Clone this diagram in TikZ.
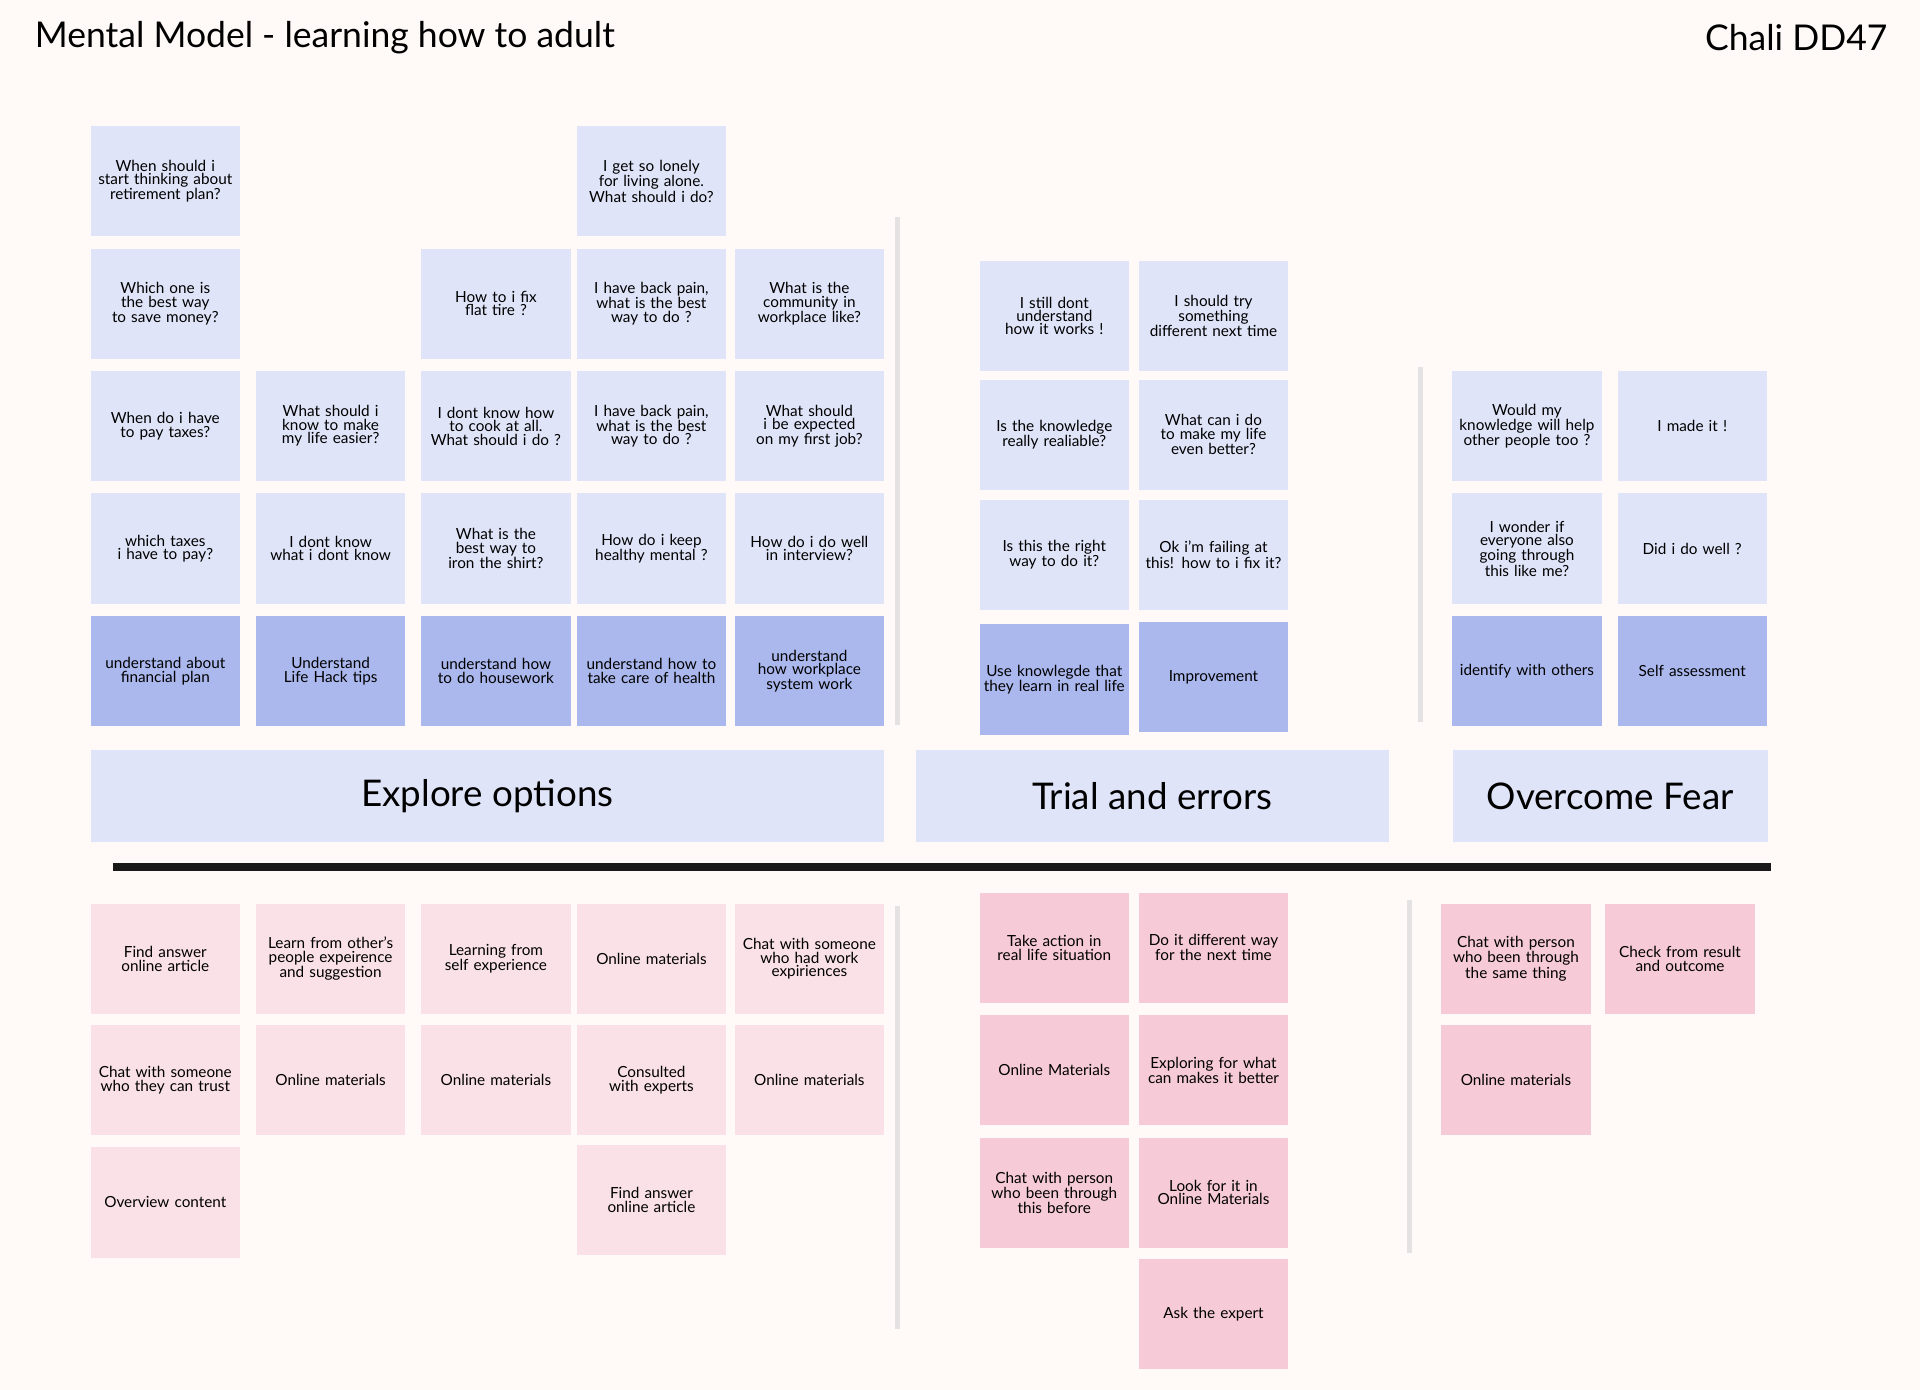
\documentclass[tikz,border=0pt]{standalone}
\usepackage{fontspec}
\setmainfont{Lato}
\hyphenpenalty=10000 \exhyphenpenalty=10000
\definecolor{bg}{HTML}{FFFAF7}
\definecolor{lb}{HTML}{DFE4F8}
\definecolor{db}{HTML}{AAB8EE}
\definecolor{lp}{HTML}{F9E1E7}
\definecolor{dp}{HTML}{F6CAD7}
\definecolor{gl}{HTML}{E4E2E2}
\begin{document}
\begin{tikzpicture}[x=1pt,y=1pt,
 note/.style={minimum width=122pt,minimum height=90pt,text width=116pt,align=center,font=\fontsize{12.5}{11}\selectfont,inner sep=2pt},
 bn/.style={note,fill=lb},
 dbn/.style={note,fill=db},
 pn/.style={note,fill=lp},
 dpn/.style={note,fill=dp},
 hdr/.style={fill=lb,inner sep=0pt,font=\fontsize{30}{32}\selectfont},
 vline/.style={gl,line width=4pt}]
\fill[bg] (0,0) rectangle (1568,-1135);
\useasboundingbox (0,0) rectangle (1568,-1135);
\node[anchor=west,font=\fontsize{29}{30}\selectfont] (title) at (25,-31) {Mental Model - learning how to adult};
\node[anchor=east,font=\fontsize{29}{30}\selectfont] (auth) at (1545,-31) {Chali DD47};
% explore top
\node[bn] (a1) at (135,-148) {When should i start thinking about retirement plan?};
\node[bn] (d1) at (532,-148) {I get so lonely for living alone. What should i do?};
\node[bn] (a2) at (135,-248) {Which one is the best way to save money?};
\node[bn] (c2) at (405,-248) {How to i fix flat tire ?};
\node[bn] (d2) at (532,-248) {I have back pain, what is the best way to do ?};
\node[bn] (e2) at (661,-248) {What is the community in workplace like?};
\node[bn] (a3) at (135,-348) {When do i have to pay taxes?};
\node[bn] (b3) at (270,-348) {What should i know to make my life easier?};
\node[bn] (c3) at (405,-348) {I dont know how to cook at all. What should i do ?};
\node[bn] (d3) at (532,-348) {I have back pain, what is the best way to do ?};
\node[bn] (e3) at (661,-348) {What should i be expected on my first job?};
\node[bn] (a4) at (135,-448) {which taxes\\ i have to pay?};
\node[bn] (b4) at (270,-448) {I dont know what i dont know};
\node[bn] (c4) at (405,-448) {What is the best way to iron the shirt?};
\node[bn] (d4) at (532,-448) {How do i keep healthy mental ?};
\node[bn] (e4) at (661,-448) {How do i do well in interview?};
\node[dbn] (a5) at (135,-548) {understand about financial plan};
\node[dbn] (b5) at (270,-548) {Understand Life Hack tips};
\node[dbn] (c5) at (405,-548) {understand how to do housework};
\node[dbn] (d5) at (532,-548) {understand how to take care of health};
\node[dbn] (e5) at (661,-548) {understand how workplace system work};
% trial top
\node[bn] (t1) at (861,-258) {I still dont understand how it works !};
\node[bn] (u1) at (991,-258) {I should try something different next time};
\node[bn] (t2) at (861,-355) {Is the knowledge really realiable?};
\node[bn] (u2) at (991,-355) {What can i do to make my life even better?};
\node[bn] (t3) at (861,-453) {Is this the right way to do it?};
\node[bn] (u3) at (991,-453) {Ok i'm failing at this! how to i fix it?};
\node[dbn] (t4) at (861,-555) {Use knowlegde that they learn in real life};
\node[dbn] (u4) at (991,-553) {Improvement};
% overcome top
\node[bn] (o1) at (1247,-348) {Would my knowledge will help other people too ?};
\node[bn] (p1) at (1382,-348) {I made it !};
\node[bn] (o2) at (1247,-448) {I wonder if everyone also going through this like me?};
\node[bn] (p2) at (1382,-448) {Did i do well ?};
\node[dbn] (o3) at (1247,-548) {identify with others};
\node[dbn] (p3) at (1382,-548) {Self assessment};
% headers
\node[hdr,minimum width=648pt,minimum height=75pt] (h1) at (398,-650) {Explore options};
\node[hdr,minimum width=386pt,minimum height=75pt] (h2) at (941,-650) {Trial and errors};
\node[hdr,minimum width=257pt,minimum height=75pt] (h3) at (1315,-650) {Overcome Fear};
\coordinate (l1) at (92,-708); \coordinate (l2) at (1446,-708);
\draw[line width=6pt,black!90] (l1) -- (l2);
% vertical lines
\coordinate (v1a) at (733,-177); \coordinate (v1b) at (733,-592);
\coordinate (v2a) at (1160,-300); \coordinate (v2b) at (1160,-590);
\coordinate (v3a) at (733,-740); \coordinate (v3b) at (733,-1085);
\coordinate (v4a) at (1151,-735); \coordinate (v4b) at (1151,-1023);
\draw[vline] (v1a)--(v1b); \draw[vline] (v2a)--(v2b);
\draw[vline] (v3a)--(v3b); \draw[vline] (v4a)--(v4b);
% explore bottom
\node[pn] (ba1) at (135,-783) {Find answer online article};
\node[pn] (bb1) at (270,-783) {Learn from other's people expeirence and suggestion};
\node[pn] (bc1) at (405,-783) {Learning from self experience};
\node[pn] (bd1) at (532,-783) {Online materials};
\node[pn] (be1) at (661,-783) {Chat with someone who had work expiriences};
\node[pn] (ba2) at (135,-882) {Chat with someone who they can trust};
\node[pn] (bb2) at (270,-882) {Online materials};
\node[pn] (bc2) at (405,-882) {Online materials};
\node[pn] (bd2) at (532,-882) {Consulted with experts};
\node[pn] (be2) at (661,-882) {Online materials};
\node[pn] (ba3) at (135,-982) {Overview content};
\node[pn] (bd3) at (532,-980) {Find answer online article};
% trial bottom
\node[dpn] (bt1) at (861,-774) {Take action in real life situation\\[10pt]};
\node[dpn] (bu1) at (991,-774) {Do it different way for the next time};
\node[dpn] (bt2) at (861,-874) {Online Materials\\[10pt]};
\node[dpn] (bu2) at (991,-874) {Exploring for what can makes it better};
\node[dpn] (bt3) at (861,-974) {Chat with person who been through this before};
\node[dpn] (bu3) at (991,-974) {Look for it in Online Materials};
\node[dpn] (bu4) at (991,-1073) {Ask the expert};
% overcome bottom
\node[dpn] (bo1) at (1238,-783) {Chat with person who been through the same thing};
\node[dpn] (bp1) at (1372,-783) {Check from result and outcome};
\node[dpn] (bo2) at (1238,-882) {Online materials};
\end{tikzpicture}
\end{document}
